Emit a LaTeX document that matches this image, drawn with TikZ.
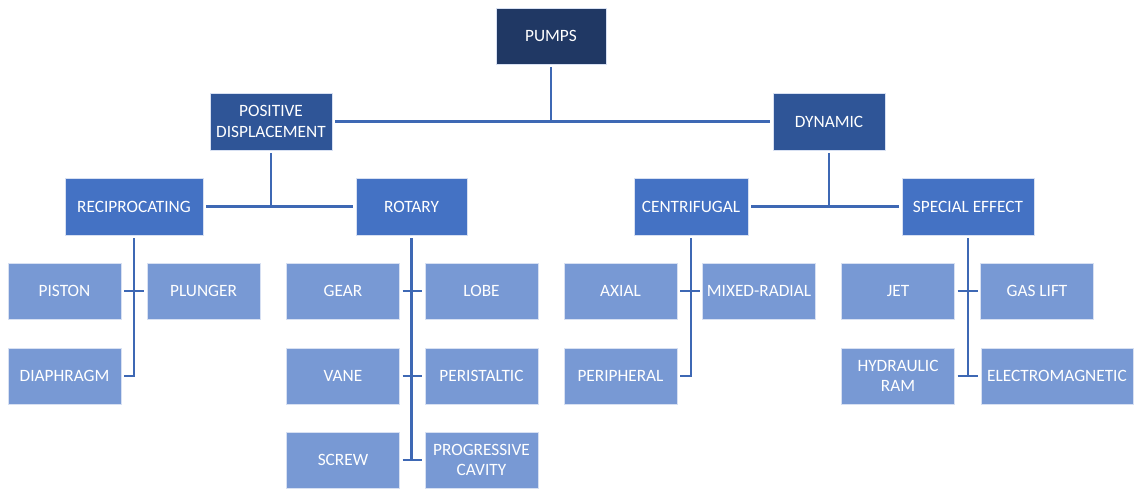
\documentclass[tikz,border=0pt]{standalone}
\usepackage{fontspec}
\setmainfont{Carlito}
\usepackage{tikz}
\definecolor{pumpnavy}{HTML}{203864}
\definecolor{pumpdark}{HTML}{2F5597}
\definecolor{pumpmid}{HTML}{4472C4}
\definecolor{pumplight}{HTML}{7899D4}
\definecolor{pumpline}{HTML}{3E68B4}

\begin{document}
\begin{tikzpicture}[x=1pt,y=-1pt,
        box/.style={draw=white!70!pumplight,line width=0.6pt,text=white,align=center,
            minimum height=56pt,inner sep=2pt,outer sep=3pt,font=\fontsize{17.3}{20.5}\selectfont},
        top/.style={box,fill=pumpnavy},
        kind/.style={box,fill=pumpdark,minimum height=57pt},
        group/.style={box,fill=pumpmid,minimum height=57pt},
        leaf/.style={box,fill=pumplight,minimum width=113pt},
        link/.style={draw=pumpline,line width=2.4pt}]
        \useasboundingbox (0,0) rectangle (1134,489);
        \node[top,minimum width=110pt] (pumps) at (551,36) {PUMPS};
        \node[kind,minimum width=122pt] (posdisp) at (271,121.5) {POSITIVE\\DISPLACEMENT};
        \node[kind,minimum width=112pt] (dynamic) at (829,121.5) {DYNAMIC};
        \node[group,minimum width=138pt] (recip) at (134,206.5) {RECIPROCATING};
        \node[group,minimum width=111pt] (rotary) at (411.5,206.5) {ROTARY};
        \node[group,minimum width=114pt] (centri) at (691,206.5) {CENTRIFUGAL};
        \node[group,minimum width=132pt] (special) at (968,206.5) {SPECIAL EFFECT};
        \node[leaf] (piston) at (64.5,291) {PISTON};
        \node[leaf] (plunger) at (203.5,291) {PLUNGER};
        \node[leaf] (diaphragm) at (64.5,376) {DIAPHRAGM};
        \node[leaf] (gear) at (343,291) {GEAR};
        \node[leaf] (lobe) at (481.5,291) {LOBE};
        \node[leaf] (vane) at (343,376) {VANE};
        \node[leaf] (peristaltic) at (481.5,376) {PERISTALTIC};
        \node[leaf] (screw) at (343,460) {SCREW};
        \node[leaf] (progcavity) at (481.5,460) {PROGRESSIVE\\CAVITY};
        \node[leaf] (axial) at (620.5,291) {AXIAL};
        \node[leaf] (mixed) at (759,291) {MIXED-RADIAL};
        \node[leaf] (peripheral) at (620.5,376) {PERIPHERAL};
        \node[leaf] (jet) at (898,291) {JET};
        \node[leaf] (gaslift) at (1037,291) {GAS LIFT};
        \node[leaf] (hydram) at (898,376) {HYDRAULIC\\RAM};
        \node[leaf,minimum width=152pt] (electro) at (1057,376) {ELECTROMAGNETIC};
        \draw[link] (pumps.south) -- (pumps.south |- posdisp.east);
        \draw[link] (posdisp.east) -- (dynamic.west);
        \draw[link] (posdisp.south) -- (posdisp.south |- recip.east);
        \draw[link] (recip.east) -- (rotary.west);
        \draw[link] (dynamic.south) -- (dynamic.south |- centri.east);
        \draw[link] (centri.east) -- (special.west);
        \draw[link] (recip.south) |- (diaphragm.east);
        \draw[link] (centri.south) |- (peripheral.east);
        \draw[link] (rotary.south) -- (rotary.south |- screw.east);
        \draw[link] (special.south) -- (special.south |- hydram.east);
        \foreach \a/\b in {piston/plunger,gear/lobe,vane/peristaltic,screw/progcavity,
            axial/mixed,jet/gaslift,hydram/electro}
            \draw[link] (\a.east) -- (\b.west);
    \end{tikzpicture}
\end{document}
